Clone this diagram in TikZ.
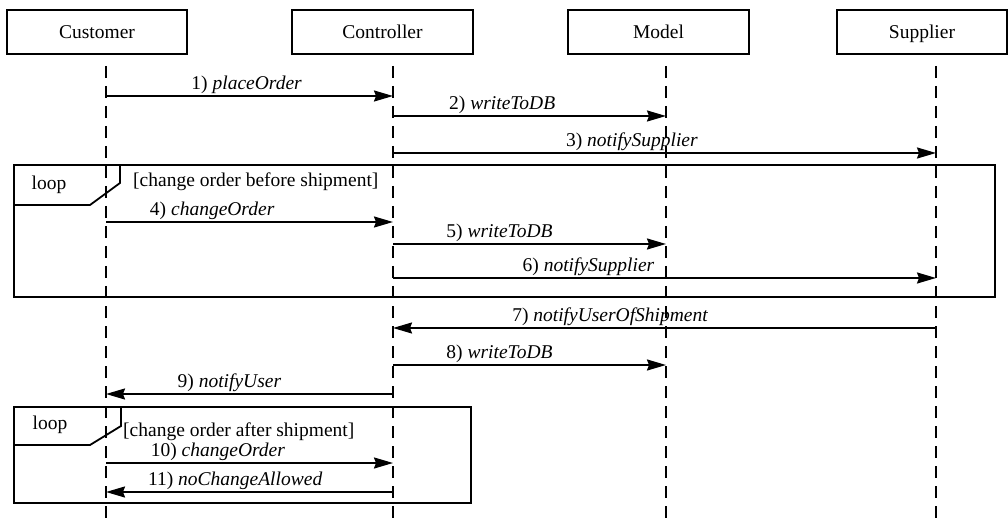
\documentclass[tikz,border=0pt]{standalone}
\usepackage{fontspec}
\setmainfont{Liberation Serif}
\usetikzlibrary{arrows.meta}
\begin{document}
\begin{tikzpicture}[x=1pt,y=-1pt,
  txtfont/.style={font=\fontsize{19.5}{23}\selectfont},
  actor/.style={draw, line width=1.4pt, minimum height=44pt, inner sep=0pt,
    text height=14pt, text depth=0pt, txtfont},
  lifeline/.style={line width=1.8pt, dash pattern=on 12pt off 8pt},
  msg/.style={line width=1.9pt, -{Stealth[length=19pt,width=11pt,inset=2pt]}},
  lbl/.style={anchor=south, inner sep=1pt, txtfont},
  frame/.style={line width=1.8pt, line join=miter},
  tag/.style={inner sep=0pt, txtfont}
]
\useasboundingbox (0,0) rectangle (1008,526);

% participants
\node[actor, minimum width=180pt] (cust)  at (97,32)    {Customer};
\node[actor, minimum width=181pt] (ctrl)  at (382.5,32) {Controller};
\node[actor, minimum width=181pt] (model) at (658.5,32) {Model};
\node[actor, minimum width=170pt] (supp)  at (922,32)   {Supplier};

% lifelines
\coordinate (custT)  at (106,66);  \coordinate (custB)  at (106,526);
\coordinate (ctrlT)  at (393,66);  \coordinate (ctrlB)  at (393,526);
\coordinate (modelT) at (666,66);  \coordinate (modelB) at (666,526);
\coordinate (suppT)  at (936,66);  \coordinate (suppB)  at (936,526);
\draw[lifeline] (custT) -- (custB);
\draw[lifeline] (ctrlT) -- (ctrlB);
\draw[lifeline] (modelT) -- (modelB);
\draw[lifeline] (suppT) -- (suppB);

% first loop fragment
\draw[frame] (14,165) rectangle (995,297);
\draw[frame] (14,205) -- (90,205) -- (120,183) -- (120,165);
\node[tag] (loopA) at (49,185) {loop};
\node[tag, anchor=west] (guardA) at (133,182) {[change order before shipment]};

% second loop fragment
\draw[frame] (14,407) rectangle (471,503);
\draw[frame] (14,445) -- (90,445) -- (121,426) -- (121,407);
\node[tag] (loopB) at (50,425) {loop};
\node[tag, anchor=west] (guardB) at (123,432) {[change order after shipment]};

% messages
\draw[msg] (custT |- 0,96)  -- node[lbl, pos=.49] {1) \textit{placeOrder}} (ctrlT |- 0,96);
\draw[msg] (ctrlT |- 0,116) -- node[lbl, pos=.40] {2) \textit{writeToDB}} (modelT |- 0,116);
\draw[msg] (ctrlT |- 0,153) -- node[lbl, pos=.44] {3) \textit{notifySupplier}} (suppT |- 0,153);
\draw[msg] (custT |- 0,222) -- node[lbl, pos=.37] {4) \textit{changeOrder}} (ctrlT |- 0,222);
\draw[msg] (ctrlT |- 0,244) -- node[lbl, pos=.39] {5) \textit{writeToDB}} (modelT |- 0,244);
\draw[msg] (ctrlT |- 0,278) -- node[lbl, pos=.36] {6) \textit{notifySupplier}} (suppT |- 0,278);
\draw[msg] (suppT |- 0,328) -- node[lbl, pos=.60] {7) \textit{notifyUserOfShipment}} (ctrlT |- 0,328);
\draw[msg] (ctrlT |- 0,365) -- node[lbl, pos=.39] {8) \textit{writeToDB}} (modelT |- 0,365);
\draw[msg] (ctrlT |- 0,394) -- node[lbl, pos=.57] {9) \textit{notifyUser}} (custT |- 0,394);
\draw[msg] (custT |- 0,463) -- node[lbl, pos=.39] {10) \textit{changeOrder}} (ctrlT |- 0,463);
\draw[msg] (ctrlT |- 0,492) -- node[lbl, pos=.55] {11) \textit{noChangeAllowed}} (custT |- 0,492);
\end{tikzpicture}
\end{document}
